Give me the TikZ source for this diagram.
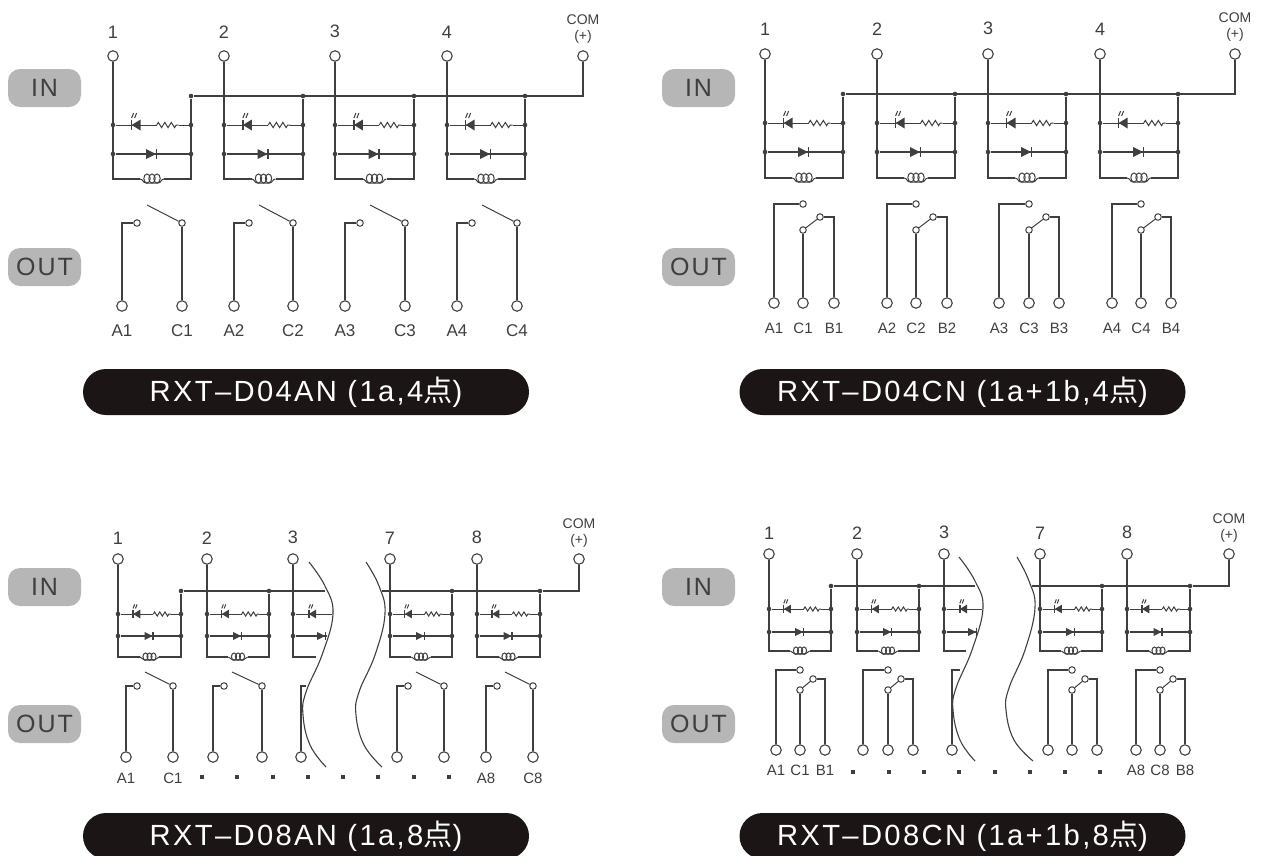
\documentclass[tikz,border=0pt]{standalone}
\usepackage{fontspec}
\setmainfont{Liberation Sans}
\newfontfamily\wordfont[LetterSpace=8]{Liberation Sans}
\newfontfamily\cjk{Noto Sans CJK SC}
\usetikzlibrary{positioning,calc,shapes.misc,decorations.pathmorphing}
\definecolor{wirecol}{HTML}{3F3F3F}
\definecolor{pillgrey}{HTML}{B6B6B6}
\definecolor{pillblack}{HTML}{1B1515}

% coil cell, top half: name, left x, right x, number
\newcommand{\coilcell}[4]{
  \node[term node] (#1-t) at (#2,\yterm) {};
  \node[num node, above=\numgap of #1-t] (#1-n) {#4};
  \node[dot node] (#1-b) at (#3,\ybus) {};
  \node[dot node] (#1-ll) at (#2,\yled) {};
  \node[dot node] (#1-lr) at (#3,\yled) {};
  \node[dot node] (#1-dl) at (#2,\ydio) {};
  \node[dot node] (#1-dr) at (#3,\ydio) {};
  \coordinate (#1-cl) at (#2,\ycoil);
  \coordinate (#1-cr) at (#3,\ycoil);
  \coordinate (#1-r0) at ($(#1-ll)!.56!(#1-lr)$);
  \coordinate (#1-r1) at ($(#1-ll)!.84!(#1-lr)$);
  \coordinate (#1-cm) at ($(#1-cl)!.5!(#1-cr)$);
  \coordinate (#1-c0) at ($(#1-cm)+(-12*\sz,0)$);
  \coordinate (#1-c1) at ($(#1-cm)+(12*\sz,0)$);
  \draw[wire] (#1-t) -- (#1-cl) -- (#1-c0);
  \draw[wire] (#1-b) -- (#1-cr) -- (#1-c1);
  \draw[thinwire] (#1-ll) -- (#1-r0);
  \draw[thinwire, zigwire] (#1-r0) -- (#1-r1);
  \draw[thinwire] (#1-r1) -- (#1-lr);
  \draw[wire] (#1-dl) -- (#1-dr);
  \ledat{$(#1-ll)!.29!(#1-lr)$}
  \diodeat{$(#1-dl)!.5!(#1-dr)$}
  \coilat{#1-cm}
}

% a light-emitting diode, a plain one, and the coil loops
\newcommand{\ledat}[1]{
  \begin{scope}[shift={(#1)},scale=\sz]
    \fill[wirecol] (-4,0) -- (5,-5.5) -- (5,5.5) -- cycle;
    \draw[wire] (-4,-5) -- (-4,5);
    \draw[thinwire] (-4,-7) -- (-2,-12);
    \draw[thinwire] (-1,-7) -- (1,-12);
  \end{scope}
}
\newcommand{\diodeat}[1]{
  \begin{scope}[shift={(#1)},scale=\sz]
    \fill[wirecol] (-6,-5) -- (4,0) -- (-6,5) -- cycle;
    \draw[wire] (4.5,-5) -- (4.5,5);
  \end{scope}
}
\newcommand{\coilat}[1]{
  \begin{scope}[shift={(#1)},scale=\sz]
    \draw[thinwire] (-12,0) .. controls (-9,0) and (-9,4) .. (-6,4) -- (6,4) .. controls (9,4) and (9,0) .. (12,0);
    \foreach \cx in {-5,0,5}
      \draw[thinwire] (\cx,-0.5) ellipse (3.2 and 4.5);
  \end{scope}
}

% make contact: name, A x, contact x, C x, blade end x
\newcommand{\makecontact}[5]{
  \node[term node] (#1-a) at (#2,\yout) {};
  \node[term node] (#1-c) at (#4,\yout) {};
  \node[contact node] (#1-p) at (#3,\ytop) {};
  \node[contact node] (#1-q) at (#4,\ytop) {};
  \coordinate (#1-k) at (#2,\ytop);
  \coordinate (#1-e) at (#5,\yblade);
  \draw[wire] (#1-a) -- (#1-k) -- (#1-p);
  \draw[wire] (#1-c) -- (#1-q);
  \draw[thinwire] (#1-q) -- (#1-e);
}

% changeover contact: name, A x, C x, B x, B contact x
\newcommand{\changeover}[5]{
  \node[term node] (#1-a) at (#2,\yout) {};
  \node[term node] (#1-c) at (#3,\yout) {};
  \node[term node] (#1-d) at (#4,\yout) {};
  \node[contact node] (#1-p) at (#3,\ytop) {};
  \node[contact node] (#1-q) at (#3,\yblade) {};
  \node[contact node] (#1-s) at (#5,\ymid) {};
  \coordinate (#1-k) at (#2,\ytop);
  \coordinate (#1-m) at (#4,\ymid);
  \draw[wire] (#1-a) -- (#1-k) -- (#1-p);
  \draw[wire] (#1-c) -- (#1-q);
  \draw[thinwire] (#1-q) -- (#1-s);
  \draw[wire] (#1-s) -- (#1-m) -- (#1-d);
}

\begin{document}
\begin{tikzpicture}[x=1pt, y=-1pt,
    wire/.style={draw=wirecol, line width=1.4pt},
    thinwire/.style={draw=wirecol, line width=1pt},
    breakwire/.style={draw=wirecol, line width=1.1pt},
    zigwire/.style={decorate, decoration={zigzag, amplitude=\sz*2.6pt, segment length=\sz*6.5pt}},
    term node/.style={circle, draw=wirecol, fill=white, line width=1.1pt, minimum size=10.5pt, inner sep=0pt},
    contact node/.style={circle, draw=wirecol, fill=white, line width=1pt, minimum size=6.5pt, inner sep=0pt},
    dot node/.style={circle, fill=wirecol, minimum size=4.6pt, inner sep=0pt},
    square node/.style={rectangle, fill=wirecol, minimum size=3.6pt, inner sep=0pt},
    num node/.style={inner sep=0pt, text=wirecol, font=\fontsize{18}{18}\selectfont},
    lab node/.style={inner sep=0pt, text=wirecol, font=\fontsize{\labsz}{15}\selectfont},
    com node/.style={inner sep=0pt, align=center, text=wirecol, font=\fontsize{14}{16}\selectfont},
    side pill/.style={rectangle, rounded corners=12pt, fill=pillgrey, text=wirecol,
      minimum width=73pt, minimum height=38pt, inner sep=0pt,
      font=\wordfont\fontsize{25}{25}\selectfont},
    type pill/.style={rounded rectangle, fill=pillblack, text=white,
      minimum width=446pt, minimum height=46pt, inner sep=0pt,
      font=\wordfont\fontsize{29.2}{30}\selectfont}]

  \useasboundingbox (0,0) rectangle (1264,855);
  \clip (0,0) rectangle (1264,855);

  %% RXT-D04AN
  \def\sz{1}\def\numgap{12pt}\def\labgap{13pt}\def\labsz{17}
  \def\yterm{56}\def\ybus{96}\def\yled{125}\def\ydio{154}\def\ycoil{179}
  \def\yout{306}\def\ytop{223}\def\yblade{205}
  \node[side pill] (ain) at (44.5,88) {IN};
  \node[side pill] (aout) at (44.5,267) {OUT};
  \foreach \i/\xl/\xr in {1/113/191, 2/224/303, 3/335/414, 4/447/525}
    \coilcell{a\i}{\xl}{\xr}{\i};
  \node[term node] (acom) at (583,\yterm) {};
  \node[com node, above=7pt of acom] (acomt) {COM\\(+)};
  \coordinate (acorner) at (583,\ybus);
  \draw[wire] (a1-b) -- (acorner) -- (acom);
  \foreach \i/\xa/\xc in {1/122/182, 2/234/293, 3/345/405, 4/457/517} {
    \makecontact{ao\i}{\xa}{\xa+15}{\xc}{\xa+25}
    \node[lab node, below=\labgap of ao\i-a] (ao\i-la) {A\i};
    \node[lab node, below=\labgap of ao\i-c] (ao\i-lc) {C\i};
  }
  \node[type pill] (atype) at (306,392) {RXT–D04AN (1a,4{\cjk 点})};

  %% RXT-D04CN
  \def\sz{1}\def\numgap{13pt}\def\labgap{14pt}\def\labsz{15}
  \def\yterm{54}\def\ybus{94}\def\yled{123}\def\ydio{152}\def\ycoil{178}
  \def\yout{303}\def\ytop{204}\def\yblade{230}\def\ymid{217}
  \node[side pill] (bin) at (698.5,88) {IN};
  \node[side pill] (bout) at (698.5,267) {OUT};
  \foreach \i/\xl/\xr in {1/765/843, 2/877/955, 3/988/1066, 4/1100/1178}
    \coilcell{b\i}{\xl}{\xr}{\i};
  \node[term node] (bcom) at (1235,\yterm) {};
  \node[com node, above=7pt of bcom] (bcomt) {COM\\(+)};
  \coordinate (bcorner) at (1235,\ybus);
  \draw[wire] (b1-b) -- (bcorner) -- (bcom);
  \foreach \i/\xa/\xc/\xb in {1/774/803/834, 2/887/916/947, 3/999/1029/1059, 4/1112/1141/1171} {
    \changeover{bo\i}{\xa}{\xc}{\xb}{\xc+17}
    \node[lab node, below=\labgap of bo\i-a] (bo\i-la) {A\i};
    \node[lab node, below=\labgap of bo\i-c] (bo\i-lc) {C\i};
    \node[lab node, below=\labgap of bo\i-d] (bo\i-ld) {B\i};
  }
  \node[type pill] (btype) at (962.5,392) {RXT–D04CN (1a+1b,4{\cjk 点})};

  %% RXT-D08AN
  \def\sz{0.8}\def\numgap{9pt}\def\labgap{10pt}\def\labsz{15}
  \def\yterm{559}\def\ybus{591}\def\yled{614}\def\ydio{636}\def\ycoil{657}
  \def\yout{757}\def\ytop{686}\def\yblade{672}
  \node[side pill] (cin) at (44.5,587) {IN};
  \node[side pill] (cout) at (44.5,724) {OUT};
  \foreach \i/\xl/\xr in {1/118/181, 2/207/269, 7/390/452, 8/477/540}
    \coilcell{c\i}{\xl}{\xr}{\i};
  \node[term node] (c3-t) at (293,\yterm) {};
  \node[num node, above=\numgap of c3-t] (c3-n) {3};
  \node[dot node] (c3-ll) at (293,\yled) {};
  \node[dot node] (c3-dl) at (293,\ydio) {};
  \coordinate (c3-cl) at (293,\ycoil);
  \coordinate (c3-ce) at (316,\ycoil);
  \coordinate (c3-le) at (332,\yled);
  \coordinate (c3-de) at (327,\ydio);
  \draw[wire] (c3-t) -- (c3-cl) -- (c3-ce);
  \draw[thinwire] (c3-ll) -- (c3-le);
  \draw[wire] (c3-dl) -- (c3-de);
  \ledat{312,\yled}
  \diodeat{322,\ydio}
  \coordinate (cbus3) at (325,\ybus);
  \coordinate (cbus7) at (382,\ybus);
  \draw[wire] (c1-b) -- (cbus3);
  \draw[wire] (cbus7) -- (c8-b);
  \node[term node] (ccom) at (579,\yterm) {};
  \node[com node, above=6pt of ccom] (ccomt) {COM\\(+)};
  \coordinate (ccorner) at (579,\ybus);
  \draw[wire] (c8-b) -- (ccorner) -- (ccom);
  \foreach \i/\xa/\xc in {1/126/173, 2/213/262, 7/397/444, 8/486/533}
    \makecontact{co\i}{\xa}{\xa+11}{\xc}{\xa+19};
  \node[term node] (co3-a) at (301,\yout) {};
  \coordinate (co3-k) at (301,\ytop);
  \coordinate (co3-e) at (306,\ytop);
  \draw[wire] (co3-a) -- (co3-k) -- (co3-e);
  \node[lab node, below=\labgap of co1-a] (co1-la) {A1};
  \node[lab node, below=\labgap of co1-c] (co1-lc) {C1};
  \node[lab node, below=\labgap of co8-a] (co8-la) {A8};
  \node[lab node, below=\labgap of co8-c] (co8-lc) {C8};
  \foreach \x in {202,237,273,308,343,378,414,449}
    \node[square node] (cd\x) at (\x,777) {};
  \draw[breakwire] plot[smooth, tension=0.7] coordinates {(309,562) (325,586) (333,614) (322,655) (306,692) (303,715) (310,745) (326,767)};
  \draw[breakwire] plot[smooth, tension=0.7] coordinates {(366,562) (379,586) (385,614) (375,655) (359,692) (356,715) (364,745) (382,767)};
  \node[type pill] (ctype) at (306,836) {RXT–D08AN (1a,8{\cjk 点})};

  %% RXT-D08CN
  \def\sz{0.8}\def\numgap{9pt}\def\labgap{9pt}\def\labsz{15}
  \def\yterm{554}\def\ybus{586}\def\yled{609}\def\ydio{632}\def\ycoil{651}
  \def\yout{750}\def\ytop{670}\def\yblade{690}\def\ymid{679}
  \node[side pill] (din) at (698.5,587) {IN};
  \node[side pill] (dout) at (698.5,724) {OUT};
  \foreach \i/\xl/\xr in {1/769/831, 2/857/919, 7/1040/1102, 8/1127/1190}
    \coilcell{d\i}{\xl}{\xr}{\i};
  \node[term node] (d3-t) at (944,\yterm) {};
  \node[num node, above=\numgap of d3-t] (d3-n) {3};
  \node[dot node] (d3-ll) at (944,\yled) {};
  \node[dot node] (d3-dl) at (944,\ydio) {};
  \coordinate (d3-cl) at (944,\ycoil);
  \coordinate (d3-ce) at (966,\ycoil);
  \coordinate (d3-le) at (982,\yled);
  \coordinate (d3-de) at (977,\ydio);
  \draw[wire] (d3-t) -- (d3-cl) -- (d3-ce);
  \draw[thinwire] (d3-ll) -- (d3-le);
  \draw[wire] (d3-dl) -- (d3-de);
  \ledat{963,\yled}
  \diodeat{973,\ydio}
  \coordinate (dbus3) at (975,\ybus);
  \coordinate (dbus7) at (1032,\ybus);
  \draw[wire] (d1-b) -- (dbus3);
  \draw[wire] (dbus7) -- (d8-b);
  \node[term node] (dcom) at (1229,\yterm) {};
  \node[com node, above=6pt of dcom] (dcomt) {COM\\(+)};
  \coordinate (dcorner) at (1229,\ybus);
  \draw[wire] (d8-b) -- (dcorner) -- (dcom);
  \foreach \i/\xa/\xc/\xb in {1/776/800/825, 2/863/888/913, 7/1048/1072/1097, 8/1136/1160/1185}
    \changeover{do\i}{\xa}{\xc}{\xb}{\xc+13};
  \node[term node] (do3-a) at (952,\yout) {};
  \coordinate (do3-k) at (952,\ytop);
  \coordinate (do3-e) at (960,\ytop);
  \draw[wire] (do3-a) -- (do3-k) -- (do3-e);
  \node[lab node, below=\labgap of do1-a] (do1-la) {A1};
  \node[lab node, below=\labgap of do1-c] (do1-lc) {C1};
  \node[lab node, below=\labgap of do1-d] (do1-ld) {B1};
  \node[lab node, below=\labgap of do8-a] (do8-la) {A8};
  \node[lab node, below=\labgap of do8-c] (do8-lc) {C8};
  \node[lab node, below=\labgap of do8-d] (do8-ld) {B8};
  \foreach \x in {853,889,924,959,995,1030,1065,1100}
    \node[square node] (dd\x) at (\x,772) {};
  \draw[breakwire] plot[smooth, tension=0.7] coordinates {(959,557) (975,581) (983,608) (972,650) (956,688) (953,710) (960,740) (975,761)};
  \draw[breakwire] plot[smooth, tension=0.7] coordinates {(1017,557) (1029,581) (1035,608) (1025,650) (1009,688) (1006,710) (1014,740) (1033,761)};
  \node[type pill] (dtype) at (962.5,836) {RXT–D08CN (1a+1b,8{\cjk 点})};

\end{tikzpicture}
\end{document}
